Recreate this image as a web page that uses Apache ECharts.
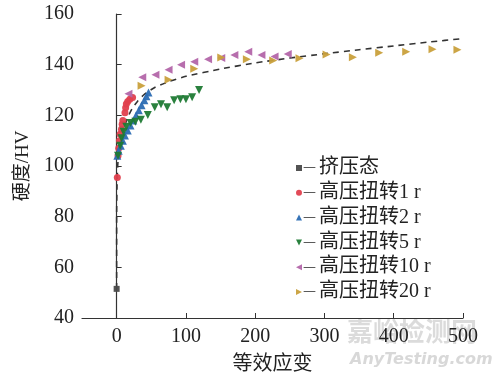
<!DOCTYPE html>
<html><head><meta charset="utf-8">
<script src="https://cdn.jsdelivr.net/npm/echarts@6/dist/echarts.min.js"></script>
<style>html,body{margin:0;padding:0;background:#fff}#c{width:500px;height:372px}</style>
</head><body><div id="c"></div>
<script>
const seriesNames = ['挤压态','高压扭转1 r','高压扭转2 r','高压扭转5 r','高压扭转10 r','高压扭转20 r'];
const extruded = [[0,51.5]];
const hpt1 = [[1,95.5],[2,104],[3,107],[4,110],[5,112.5],[7,114.5],[8,116.5],[9,118],[12,121],[13,123],[14,124.5],[16,125.5],[19,126.3],[23,127]];
const hpt2 = [[1,104],[3,106],[6,108],[9,110],[12,112],[16,114],[20,116],[24,118],[28,120],[32,122],[36,124],[40,126],[43,127.5],[46,129]];
const hpt5 = [[2,104],[5,108],[7,111],[10,113.5],[14,115.5],[20,117],[27,117.5],[35,118.3],[45,120.1],[55,123.2],[64,124.4],[73,123.2],[83,126],[92,126.3],[100,126.3],[109,127.1],[119,130]];
const hpt10 = [[17,128.5],[37,135],[56,136],[75,138],[93,140],[112,141.2],[132,142.1],[151,142.6],[170,143.8],[190,145.1],[209,143.8],[228,143.2],[247,144.2]];
const hpt20 = [[36,131.7],[75,134],[112,138.4],[151,142.8],[188,142.1],[226,141.6],[264,142.5],[303,144],[341,142.9],[379,144.7],[418,145.1],[456,146.1],[492,145.9]];
const fitCurve = [[0,51.5],[0,80],[0.5,92],[1.5,100],[3,105],[6,110],[10,114.5],[15,118.5],[22,122.5],[30,125.5],[40,128.3],[55,131],[75,133.3],[100,135.4],[150,138.3],[200,140.7],[250,142.6],[300,144.3],[350,145.9],[400,147.4],[450,148.9],[500,150.3]];
const xTicks = [0,100,200,300,400,500];

const colors = ['#4a4a4a','#e0404e','#2b6cb3','#1f7a34','#b366a9','#c9a03c'];
const symbols = ['rect','circle','triangle','path://M0,0 L10,0 L5,10 Z','path://M0,5 L10,0 L10,10 Z','path://M0,0 L10,5 L0,10 Z'];
const sizes = [6,7,8,8,8,8];
const icons = [
  'path://M0,0 L5,0 L5,5 L0,5 Z',
  'circle',
  'path://M0,6 L3,0 L6,6 Z',
  'path://M0,0 L6,0 L3,6 Z',
  'path://M0,3 L6,0 L6,6 Z',
  'path://M0,0 L6,3 L0,6 Z'
];
const datasets = [extruded,hpt1,hpt2,hpt5,hpt10,hpt20];
const serif = '"Liberation Serif","Noto Sans CJK SC",serif';

const series = [{
  name:'fit', type:'line', data: fitCurve, showSymbol:false, symbol:'none', smooth:0.2,
  lineStyle:{color:'#333', width:1.6, type:[6,5]}, z:1, silent:true
}];
datasets.forEach((d,i)=>{
  series.push({name:seriesNames[i], type:'scatter', data:d, symbol:symbols[i], symbolSize:sizes[i],
    itemStyle:{color:colors[i], opacity:0.95}, z:2+i});
});

const chart = echarts.init(document.getElementById('c'), null, {renderer:'canvas'});
chart.setOption({
  animation:false,
  backgroundColor:'#fff',
  grid:{left:82, right:37, top:14, bottom:54, containLabel:false, outerBoundsMode:'none'},
  xAxis:{type:'value', min:-50, max:500,
    axisLine:{show:true, lineStyle:{color:'#333', width:1.2}},
    axisTick:{show:true, inside:true, length:5, customValues:xTicks, lineStyle:{color:'#333'}},
    axisLabel:{customValues:xTicks, color:'#222', fontSize:20, fontFamily:serif, margin:9},
    splitLine:{show:false},
    name:'等效应变', nameLocation:'middle', nameGap:37,
    nameTextStyle:{color:'#222', fontSize:20, fontFamily:serif}
  },
  yAxis:{type:'value', min:40, max:160, interval:20,
    axisLine:{show:true, lineStyle:{color:'#333', width:1.2}},
    axisTick:{show:true, inside:true, length:5, lineStyle:{color:'#333'}},
    axisLabel:{color:'#222', fontSize:20, fontFamily:serif, margin:8},
    splitLine:{show:false},
    name:'硬度/HV', nameLocation:'middle', nameGap:49, nameRotate:90,
    nameTextStyle:{color:'#222', fontSize:19, fontFamily:serif}
  },
  legend:{
    orient:'vertical', left:291, top:153, itemWidth:6, itemHeight:6, itemGap:4.8,
    formatter: n => '{d|—}{t|' + n + '}',
    textStyle:{color:'#222', fontSize:20, fontFamily:serif, padding:[0,0,0,-4],
      rich:{
        d:{fontSize:13, fontFamily:'"DejaVu Sans"', color:'#444', padding:[0,3,0,0]},
        t:{fontSize:20, fontFamily:serif, color:'#222'}
      }},
    data: seriesNames.map((n,i)=>({name:n, icon:icons[i], itemStyle:{color:colors[i]}}))
  },
  graphic:[
    {type:'text', left:347, top:318, z:0, style:{text:'嘉峪检测网', fill:'rgba(190,190,190,0.55)', font:'bold 26px "Noto Sans CJK SC"'}},
    {type:'text', left:350, top:352, z:0, style:{text:'AnyTesting.com', fill:'rgba(190,190,190,0.6)', font:'italic bold 16px "DejaVu Sans"'}}
  ],
  series: series
});
</script></body></html>
